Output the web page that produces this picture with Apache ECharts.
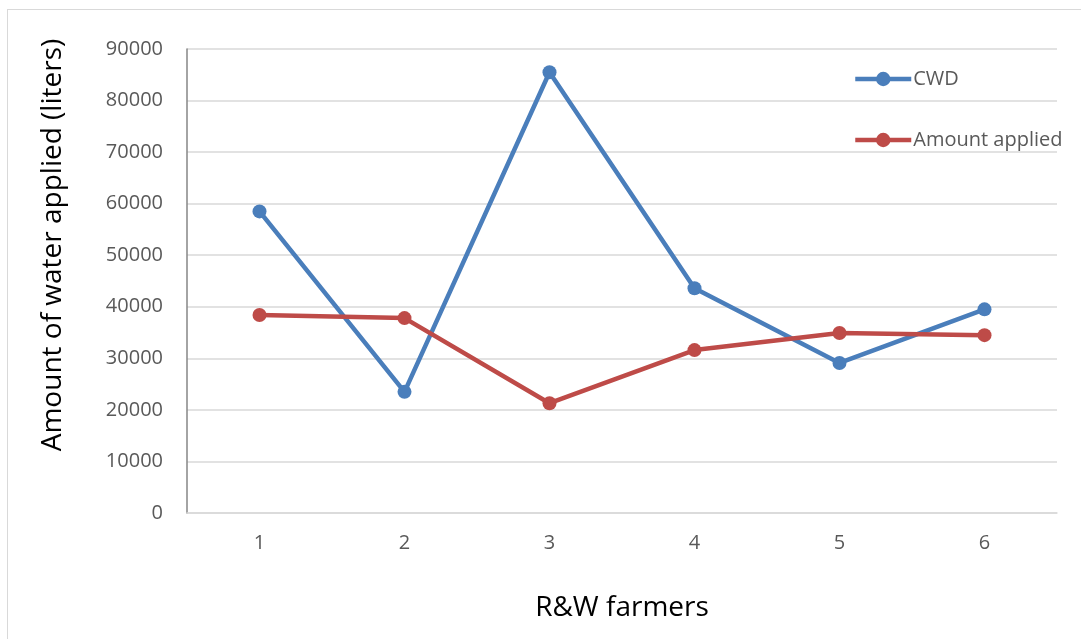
<!DOCTYPE html>
<html>
<head>
<meta charset="utf-8">
<script src="https://cdn.jsdelivr.net/npm/echarts@6/dist/echarts.min.js"></script>
<style>
  html, body { margin: 0; padding: 0; background: #fff; }
  #frame { position: absolute; left: 7px; top: 9px; width: 1090px; height: 640px; border: 1px solid #d9d9d9; box-sizing: border-box; }
  #chart { position: absolute; left: 0; top: 0; width: 1081px; height: 639px; }
</style>
</head>
<body>
<div id="frame"></div>
<div id="chart"></div>
<script>
// Farmers surveyed and water volumes in litres
const farmers = ['1', '2', '3', '4', '5', '6'];
const cwd = [58500, 23500, 85500, 43600, 29100, 39500];
const amountApplied = [38400, 37800, 21300, 31600, 34900, 34500];

const font = '"Open Sans", "Liberation Sans", sans-serif';
const chart = echarts.init(document.getElementById('chart'));

chart.setOption({
  animation: false,
  textStyle: { fontFamily: font },
  grid: { left: 187, right: 24, top: 49, bottom: 126 },
  legend: {
    orient: 'vertical',
    left: 848,
    top: 62,
    itemGap: 37,
    itemWidth: 56,
    itemHeight: 18,
    itemStyle: { borderWidth: 0 },
    lineStyle: { width: 4.5 },
    textStyle: { fontSize: 20, lineHeight: 24, color: '#595959', fontFamily: font, padding: [0, 0, 0, -3] },
    data: ['CWD', 'Amount applied']
  },
  xAxis: {
    type: 'category',
    data: farmers,
    boundaryGap: true,
    name: 'R&W farmers',
    nameLocation: 'middle',
    nameGap: 81,
    nameTextStyle: { fontSize: 28, color: '#000', fontFamily: font },
    axisLine: { lineStyle: { color: '#d9d9d9', width: 1.5 } },
    axisTick: { show: false },
    axisLabel: { fontSize: 20, color: '#595959', margin: 20 }
  },
  yAxis: {
    type: 'value',
    min: 0,
    max: 90000,
    interval: 10000,
    name: 'Amount of water applied (liters)',
    nameLocation: 'middle',
    nameGap: 120,
    nameTextStyle: { fontSize: 28, color: '#000', fontFamily: font, padding: [0, 0, 0, 72] },
    axisLine: { show: true, lineStyle: { color: '#868686', width: 1.5 } },
    axisTick: { show: false },
    axisLabel: { fontSize: 20, color: '#595959', margin: 24, formatter: v => String(v) },
    splitLine: { lineStyle: { color: '#d9d9d9', width: 1.5 } }
  },
  series: [
    {
      name: 'CWD',
      type: 'line',
      data: cwd,
      symbol: 'circle',
      symbolSize: 14,
      lineStyle: { width: 4.5, color: '#4a7ebb' },
      itemStyle: { color: '#4a7ebb' }
    },
    {
      name: 'Amount applied',
      type: 'line',
      data: amountApplied,
      symbol: 'circle',
      symbolSize: 14,
      lineStyle: { width: 4.5, color: '#be4b48' },
      itemStyle: { color: '#be4b48' }
    }
  ]
});
</script>
</body>
</html>
